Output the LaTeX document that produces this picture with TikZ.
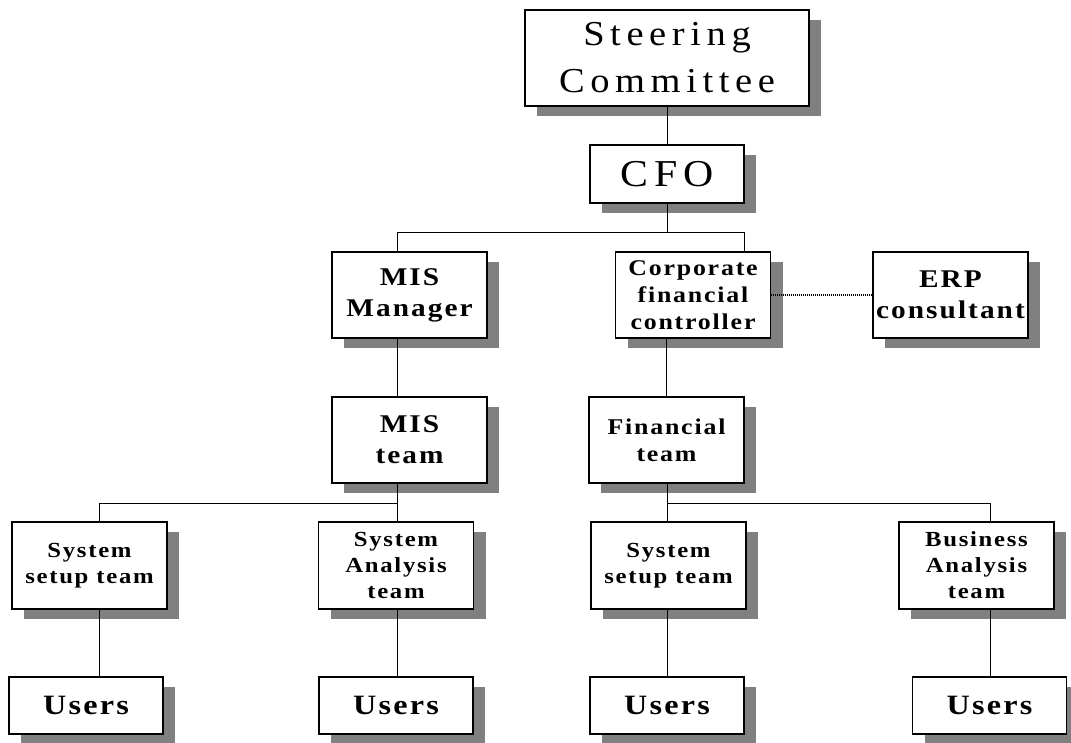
\documentclass[tikz,border=0pt]{standalone}
\usepackage{fontspec}
\newfontfamily\orgfont[LetterSpace=8,FakeStretch=1.15]{Liberation Serif}
\newfontfamily\headfont[LetterSpace=16,FakeStretch=1.1]{Liberation Serif}
\usepackage{tikz}
\usetikzlibrary{calc}
\usetikzlibrary{shadows}
\newcommand{\bnode}[4]{\node(#1)[#2] at (#3){#4}}

\begin{document}
\begin{tikzpicture}[
        x=1pt,y=-1pt,
        item/.style={rectangle,draw=black,line width=1.2pt,fill=white,align=center,inner sep=0pt,
                     drop shadow={shadow xshift=12pt,shadow yshift=-10pt,opacity=1,fill=gray}},
        topbox/.style={item,font=\headfont\fontsize{35}{47}\selectfont},
        midbox/.style={item,minimum width=155pt,minimum height=86pt,font=\orgfont\bfseries\fontsize{25.5}{31}\selectfont},
        ctlbox/.style={item,minimum width=155pt,minimum height=86pt,font=\orgfont\bfseries\fontsize{22.5}{27}\selectfont},
        teambox/.style={item,minimum width=155pt,minimum height=87pt,font=\orgfont\bfseries\fontsize{21.5}{26}\selectfont},
        userbox/.style={item,minimum width=154pt,minimum height=57pt,font=\orgfont\bfseries\fontsize{28}{34}\selectfont},
        link/.style={line width=1pt},
        dotlink/.style={line width=1.4pt,dash pattern=on 1.2pt off 0.8pt}
      ]
      \useasboundingbox (0,0) rectangle (1071,743);
      \bnode{steer}{topbox,minimum width=284pt,minimum height=96pt}{667,58}{Steering\\Committee};
      \bnode{cfo}{topbox,minimum width=154pt,minimum height=58pt,font=\headfont\fontsize{38}{44}\selectfont}{667,174}{CFO};
      \bnode{mism}{midbox}{409.5,295}{MIS\\Manager};
      \bnode{corp}{ctlbox}{693,295}{Corporate\\financial\\controller};
      \bnode{erp}{midbox}{950.5,295}{ERP\\consultant};
      \bnode{mist}{midbox}{409.5,440}{MIS\\team};
      \bnode{fint}{ctlbox}{666.5,440}{Financial\\team};
      \bnode{sys1}{teambox}{89.5,565.5}{System\\setup team};
      \bnode{sysa}{teambox}{396,565.5}{System\\Analysis\\team};
      \bnode{sys2}{teambox}{668.5,565.5}{System\\setup team};
      \bnode{busa}{teambox}{976.5,565.5}{Business\\Analysis\\team};
      \bnode{usr1}{userbox}{86,705.5}{Users};
      \bnode{usr2}{userbox}{396,705.5}{Users};
      \bnode{usr3}{userbox}{667,705.5}{Users};
      \bnode{usr4}{userbox}{989.5,705.5}{Users};
      \coordinate (jl) at (397,233); \coordinate (jr) at (744,233);
      \coordinate (cola) at (99,503); \coordinate (colb) at (397,503);
      \coordinate (colc) at (667,503); \coordinate (cold) at (990,503);
      \draw[link] (steer) -- (cfo);
      \draw[link] (cfo.south) -- (cfo.south |- jl);
      \draw[link] (jl |- mism.north) -- (jl) -- (jr) -- (jr |- corp.north);
      \draw[link] (fint.north |- corp.south) -- (fint.north);
      \draw[dotlink] (corp.east) -- (erp.west);
      \draw[link] (jl |- mism.south) -- (jl |- mist.north);
      \draw[link] (colb |- mist.south) -- (colb |- sysa.north);
      \draw[link] (cola |- sys1.north) -- (cola) -- (colb);
      \draw[link] (colc |- fint.south) -- (colc |- sys2.north);
      \draw[link] (colc) -- (cold) -- (cold |- busa.north);
      \draw[link] (cola |- sys1.south) -- (cola |- usr1.north);
      \draw[link] (colb |- sysa.south) -- (colb |- usr2.north);
      \draw[link] (colc |- sys2.south) -- (colc |- usr3.north);
      \draw[link] (cold |- busa.south) -- (cold |- usr4.north);
    \end{tikzpicture}
\end{document}
